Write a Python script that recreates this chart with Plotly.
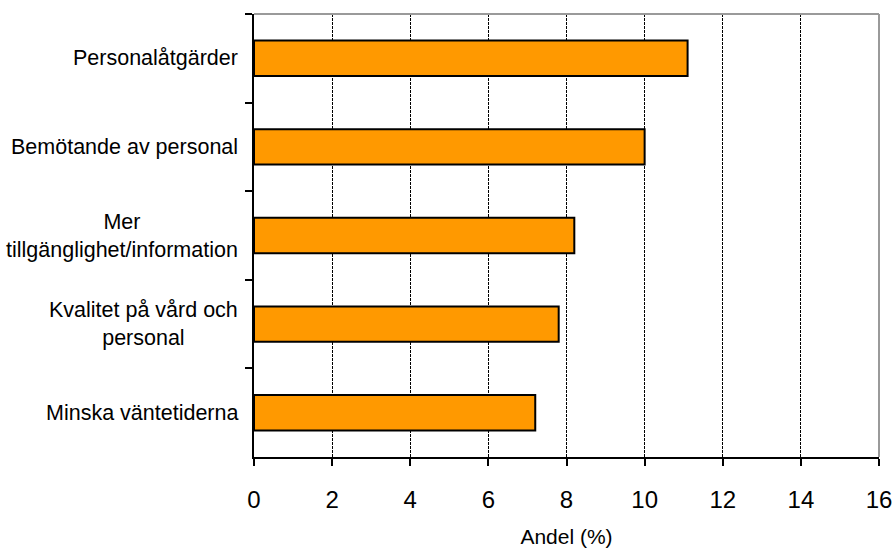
import plotly.graph_objects as go

# Survey answers: suggested improvements, share of respondents (%)
categories = [
    "Personalåtgärder",
    "Bemötande av personal",
    "Mer<br>tillgänglighet/information",
    "Kvalitet på vård och<br>personal",
    "Minska väntetiderna",
]
values = [11.1, 10.0, 8.2, 7.8, 7.2]
x_ticks = [0, 2, 4, 6, 8, 10, 12, 14, 16]
x_title = "Andel (%)"

FONT = "Liberation Sans, Arial, sans-serif"

fig = go.Figure(
    go.Bar(
        x=values,
        y=categories,
        orientation="h",
        marker=dict(color="#FF9900", line=dict(color="#000000", width=2)),
    )
)

# Category labels drawn as centred text blocks left of the axis
for cat in categories:
    fig.add_annotation(
        x=0, xref="paper", y=cat, yref="y",
        text=cat, showarrow=False,
        xanchor="right", yanchor="middle", align="center",
        xshift=-14,
        font=dict(family=FONT, size=21.5, color="#000000"),
    )

# Grey frame on the top and right of the plot area
fig.add_shape(type="line", xref="paper", yref="paper", x0=0, x1=1, y0=1, y1=1,
              line=dict(color="#9a9a9a", width=2))
fig.add_shape(type="line", xref="paper", yref="paper", x0=1, x1=1, y0=0, y1=1,
              line=dict(color="#9a9a9a", width=2))

fig.update_layout(
    width=893,
    height=550,
    margin=dict(l=254, r=14, t=14, b=93),
    paper_bgcolor="white",
    plot_bgcolor="white",
    bargap=0.6,
    showlegend=False,
    font=dict(family=FONT, color="#000000"),
    xaxis=dict(
        range=[0, 16],
        tickvals=x_ticks,
        ticktext=[str(t) for t in x_ticks],
        ticks="outside",
        ticklen=7,
        tickwidth=2,
        tickcolor="#000000",
        tickfont=dict(family=FONT, size=24, color="#000000"),
        ticklabelstandoff=13,
        showline=True,
        linecolor="#000000",
        linewidth=2,
        showgrid=True,
        gridcolor="#000000",
        gridwidth=1,
        griddash="3px,1px",
        zeroline=False,
        title=dict(text=x_title, font=dict(family=FONT, size=21, color="#000000"), standoff=18),
        automargin=False,
        fixedrange=True,
    ),
    yaxis=dict(
        autorange="reversed",
        showticklabels=False,
        ticks="outside",
        tickson="boundaries",
        ticklen=7,
        tickwidth=2,
        tickcolor="#000000",
        showline=True,
        linecolor="#000000",
        linewidth=2,
        showgrid=False,
        zeroline=False,
        automargin=False,
        fixedrange=True,
    ),
)

fig.write_html("out.html")
